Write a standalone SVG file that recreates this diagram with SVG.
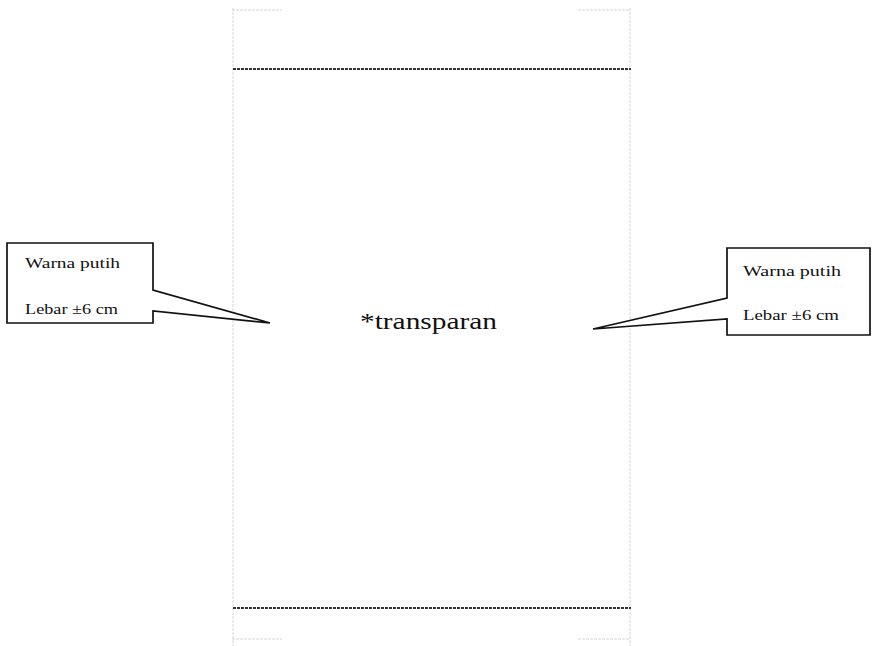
<svg xmlns="http://www.w3.org/2000/svg" width="876" height="646" viewBox="0 0 876 646">
<style>
.bg{fill:#ffffff}
.guide{stroke:#d4d6de;stroke-width:1;fill:none;stroke-dasharray:3 1}
.cut{stroke:#333333;stroke-width:2;fill:none;stroke-dasharray:3 1}
.call{fill:#ffffff;stroke:#111111;stroke-width:1.7;stroke-linejoin:miter}
.lbl{font-family:"Liberation Serif","DejaVu Serif",serif;font-size:15px;fill:#111}
.main{font-family:"Liberation Serif","DejaVu Serif",serif;font-size:23px;fill:#111}
</style>
<rect class="bg" x="0" y="0" width="876" height="646"/>
<g id="page">
<line class="guide" x1="233" y1="8" x2="233" y2="646"/>
<line class="guide" x1="630" y1="8" x2="630" y2="646"/>
<line class="guide" x1="232" y1="10" x2="282" y2="10"/>
<line class="guide" x1="578" y1="10" x2="630" y2="10"/>
<line class="guide" x1="232" y1="639" x2="282" y2="639"/>
<line class="guide" x1="578" y1="639" x2="630" y2="639"/>
<line class="cut" x1="233" y1="69" x2="631" y2="69"/>
<line class="cut" x1="233" y1="608" x2="631" y2="608"/>
<text class="main" x="360" y="329" textLength="137" lengthAdjust="spacingAndGlyphs">*transparan</text>
</g>
<g id="callout-left">
<path class="call" d="M7,243 H153 V290 L270,323 L153,311 V323 H7 Z"/>
<text class="lbl" x="25" y="268" textLength="95" lengthAdjust="spacingAndGlyphs">Warna putih</text>
<text class="lbl" x="25" y="314" textLength="93" lengthAdjust="spacingAndGlyphs">Lebar ±6 cm</text>
</g>
<g id="callout-right">
<path class="call" d="M727,248 H870 V335 H727 V319 L593,329 L727,298 Z"/>
<text class="lbl" x="743" y="276" textLength="98" lengthAdjust="spacingAndGlyphs">Warna putih</text>
<text class="lbl" x="743" y="320" textLength="96" lengthAdjust="spacingAndGlyphs">Lebar ±6 cm</text>
</g>
</svg>
